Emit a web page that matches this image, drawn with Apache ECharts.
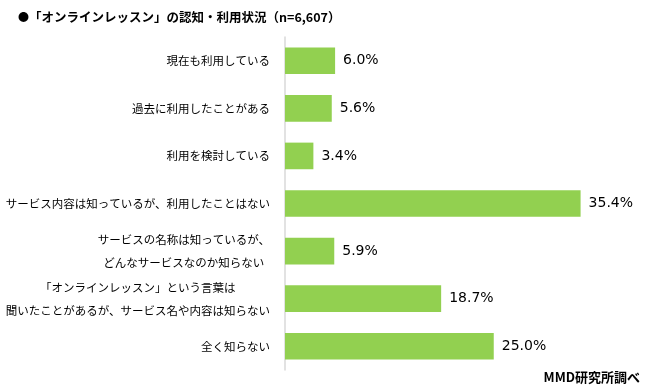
<!DOCTYPE html>
<html><head><meta charset="utf-8">
<script src="https://cdn.jsdelivr.net/npm/echarts@6/dist/echarts.min.js"></script>
<style>html,body{margin:0;padding:0;background:#fff}#c{width:651px;height:392px}</style>
</head><body><div id="c"></div>
<script>
var categories = [
  '現在も利用している',
  '過去に利用したことがある',
  '利用を検討している',
  'サービス内容は知っているが、利用したことはない',
  'サービスの名称は知っているが、\nどんなサービスなのか知らない',
  '「オンラインレッスン」という言葉は\n聞いたことがあるが、サービス名や内容は知らない',
  '全く知らない'
];
var values = [6.0, 5.6, 3.4, 35.4, 5.9, 18.7, 25.0];
var titleBullet = '●';
var titleText = '「オンラインレッスン」の認知・利用状況（n=6,607）';
var sourceText = 'MMD研究所調べ';

var chart = echarts.init(document.getElementById('c'));
chart.setOption({
  animation: false,
  backgroundColor: '#fff',
  title: [
    {text: '{b|' + titleBullet + '}{t|' + titleText + '}', left: 13, top: 6,
      textStyle: {fontFamily: 'Noto Sans CJK JP', fontSize: 12.5, fontWeight: 'bold', color: '#000',
        rich: {
          b: {fontFamily: 'Noto Sans CJK JP', fontSize: 11, fontWeight: 'bold', color: '#000', width: 11},
          t: {fontFamily: 'Noto Sans CJK JP', fontSize: 12.5, fontWeight: 'bold', color: '#000'}
        }}},
    {text: sourceText, right: 6, top: 366, textStyle: {fontFamily: 'Noto Sans CJK JP', fontSize: 13, fontWeight: 'bold', color: '#000'}}
  ],
  grid: {left: 285, right: 32, top: 37, bottom: 22, containLabel: false},
  xAxis: {type: 'value', min: 0, max: 40, show: false, splitLine: {show: false}},
  yAxis: {
    type: 'category', data: categories, inverse: true,
    axisLine: {show: true, lineStyle: {color: '#D9D9D9', width: 1.5}},
    axisTick: {show: false},
    axisLabel: {
      margin: 15, color: '#000', fontFamily: 'Noto Sans CJK JP', fontSize: 11.5, lineHeight: 23,
      formatter: function (v) {
        if (v.indexOf('\n') < 0) return v;
        return v.split('\n').map(function (s) { return '{c|' + s + '}'; }).join('\n');
      },
      rich: {c: {align: 'center', fontFamily: 'Noto Sans CJK JP', fontSize: 11.5, lineHeight: 23, color: '#000'}}
    }
  },
  series: [{
    type: 'bar', data: values, barCategoryGap: '44%',
    itemStyle: {color: '#92D050'},
    label: {show: true, position: 'right', distance: 8, color: '#000', fontFamily: 'DejaVu Sans', fontSize: 14,
      formatter: function (p) { return p.value.toFixed(1) + '%'; }}
  }]
});
</script></body></html>
